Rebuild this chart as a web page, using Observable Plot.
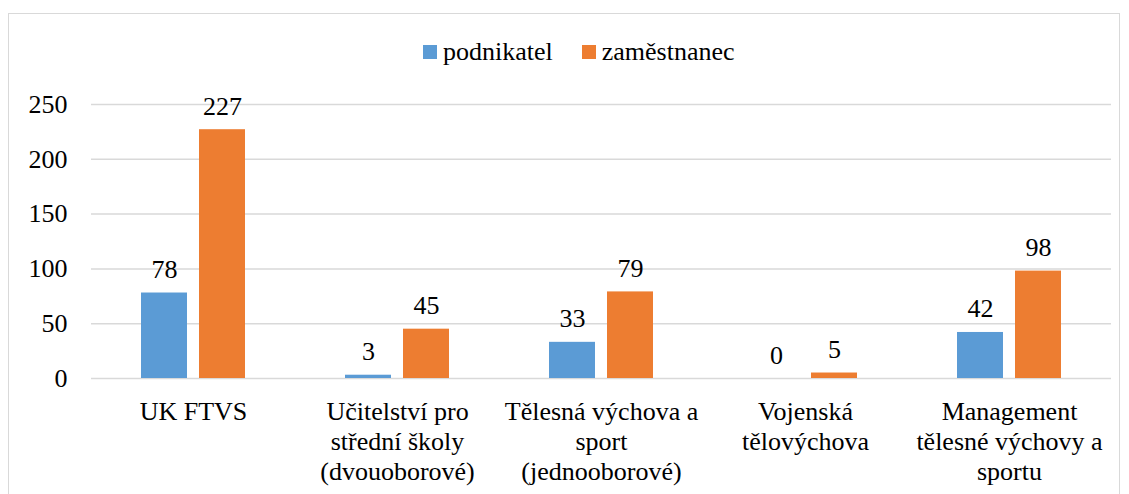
<!DOCTYPE html>
<html><head><meta charset="utf-8">
<style>
body{margin:0;background:#fff;font-family:'Liberation Serif',serif;}
#wrap{position:relative;width:1129px;height:494px;overflow:hidden;background:#fff}
#frame{position:absolute;left:8px;top:13px;width:1112px;height:520px;border:1.5px solid #d9d9d9;box-sizing:border-box;pointer-events:none}
#legend{position:absolute;top:37px;left:423px;display:flex;align-items:center;font-size:26px;color:#000;line-height:30px}
.item{display:flex;align-items:center;margin-right:29px}
.sw{width:14px;height:14px;margin-right:6px}
#chart{position:absolute;left:0;top:0}
</style>
<script src="https://cdn.jsdelivr.net/npm/d3@7"></script>
<script src="https://cdn.jsdelivr.net/npm/@observablehq/plot@0.6"></script>
</head>
<body>
<div id="wrap"><div id="chart"></div><div id="legend"></div><div id="frame"></div></div>
<script>
const categories = ["UK FTVS", "Učitelství pro\nstřední školy\n(dvouoborové)", "Tělesná výchova a\nsport\n(jednooborové)", "Vojenská\ntělovýchova", "Management\ntělesné výchovy a\nsportu"];
const series = ["podnikatel", "zaměstnanec"];
const podnikatel = [78, 3, 33, 0, 42];
const zamestnanec = [227, 45, 79, 5, 98];
const colors = ["#5B9BD5", "#ED7D31"];
const yTicks = [0, 50, 100, 150, 200, 250];

const data = [];
categories.forEach((c, i) => {
  data.push({cat: c, s: series[0], v: podnikatel[i]});
  data.push({cat: c, s: series[1], v: zamestnanec[i]});
});

const FONT = "Liberation Serif";
const plot = Plot.plot({
  width: 1129, height: 494,
  marginLeft: 89, marginRight: 16, marginTop: 104, marginBottom: 116,
  style: {fontFamily: FONT, fontSize: "26px", color: "#000", background: "transparent"},
  fx: {domain: categories, padding: 0},
  x: {domain: series, paddingInner: 0.2, paddingOuter: 0.84, axis: null},
  y: {domain: [0, 250], ticks: yTicks},
  color: {domain: series, range: colors},
  marks: [
    Plot.gridY(yTicks, {stroke: "#d9d9d9", strokeOpacity: 1, strokeWidth: 1.5}),
    Plot.axisY(yTicks, {tickSize: 0, tickPadding: 24, label: null, fontSize: 26, fontFamily: FONT, tickFormat: d => String(d)}),
    Plot.axisFx({anchor: "bottom", tickSize: 0, tickPadding: 20, label: null, fontSize: 26, fontFamily: FONT, lineHeight: 1.15}),
    Plot.barY(data, {fx: "cat", x: "s", y: "v", fill: "s"}),
    Plot.text(data, {fx: "cat", x: "s", y: "v", text: d => String(d.v), lineAnchor: "bottom", dy: -15, fontSize: 26, fontFamily: FONT, fill: "#000"})
  ]
});
document.getElementById("chart").appendChild(plot);

const lg = document.getElementById("legend");
series.forEach((s, i) => {
  const it = document.createElement("div"); it.className = "item";
  const sw = document.createElement("span"); sw.className = "sw"; sw.style.background = colors[i];
  const t = document.createElement("span"); t.textContent = s;
  t.style.setProperty("font-family", "'Liberation Serif'", "important");
  it.appendChild(sw); it.appendChild(t); lg.appendChild(it);
});
</script>
</body></html>
